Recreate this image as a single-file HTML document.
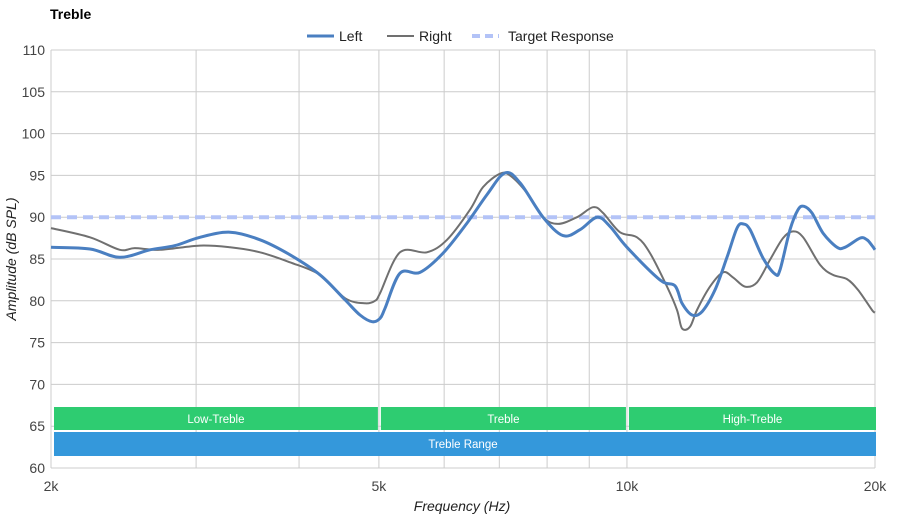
<!DOCTYPE html>
<html><head><meta charset="utf-8"><style>
body{margin:0;background:#fff;font-family:"Liberation Sans",sans-serif;}
svg text{font-family:"Liberation Sans",sans-serif;}
</style></head><body>
<svg id="chart" width="900" height="520" xmlns="http://www.w3.org/2000/svg">
<text x="50" y="19" font-size="14" font-weight="bold" fill="#000">Treble</text>
<g>
 <g><line x1="307" y1="36" x2="334" y2="36" stroke="#4a7fc1" stroke-width="3"/><text x="339" y="41" font-size="14" fill="#222">Left</text></g>
 <g><line x1="387" y1="36" x2="414" y2="36" stroke="#707070" stroke-width="2"/><text x="419" y="41" font-size="14" fill="#222">Right</text></g>
 <g><line x1="472" y1="36" x2="499" y2="36" stroke="#b3c3f7" stroke-width="4" stroke-dasharray="8,5"/><text x="508" y="41" font-size="14" fill="#222">Target Response</text></g>
</g>
<g id="grid"></g>
<g id="bands"></g>
<g id="series"></g>
<g id="axes"></g>
<text x="462" y="511" font-size="14" font-style="italic" text-anchor="middle" fill="#222">Frequency (Hz)</text>
<text transform="translate(16,259) rotate(-90)" font-size="14" font-style="italic" text-anchor="middle" fill="#222">Amplitude (dB SPL)</text>
</svg>
<script>
const yTicks=[60,65,70,75,80,85,90,95,100,105,110];
const xGrid=[2000,3000,4000,5000,6000,7000,8000,9000,10000,20000];
const xTickVals=[2000,5000,10000,20000];
const xTickLabels=["2k","5k","10k","20k"];
const targetDb=90;
const leftFreq=[2000,2230,2424,2637,2828,3032,3298,3587,3900,4242,4550,4743,4906,5016,5086,5304,5608,5982,6396,6763,7112,7418,7910,8364,8770,9198,9538,10000,10968,11438,11664,11994,12332,12788,13226,13600,13832,14106,14628,15126,15338,15772,16130,16400,16772,17296,17986,18392,19180,19558,19834,20000];
const leftDb=[86.4,86.2,85.2,86.1,86.6,87.6,88.2,87.3,85.5,83.1,80.1,78.3,77.5,77.9,79.1,83.3,83.4,85.7,89.3,92.7,95.3,94.1,90.0,87.8,88.5,90.0,88.9,86.4,82.5,81.8,79.7,78.3,78.7,81.3,85.2,88.7,89.2,88.5,85.1,83.2,83.7,88.5,90.9,91.3,90.5,88.1,86.4,86.4,87.5,87.3,86.6,86.1];
const rightFreq=[2000,2230,2424,2528,2712,3032,3298,3587,3900,4242,4550,4809,4946,5016,5304,5718,6048,6450,6688,7014,7212,7564,7910,8248,8696,9096,9354,9806,10286,10666,11184,11500,11664,11928,12162,12612,13078,13450,13906,14382,14914,15466,15906,16358,17156,17784,18494,19074,19834,20000];
const rightDb=[88.7,87.6,86.1,86.3,86.1,86.6,86.4,85.8,84.6,83.1,80.3,79.7,80.0,80.9,85.8,85.8,87.3,90.9,93.6,95.2,95.0,92.9,90.0,89.2,90.0,91.2,90.5,88.2,87.6,85.7,81.7,78.9,76.7,76.9,78.9,81.7,83.4,82.8,81.7,82.2,84.9,87.5,88.3,87.6,84.3,83.1,82.6,81.3,78.9,78.6];
const bandNames=["Low-Treble","Treble","High-Treble"];
const bandStart=[2000,5000,10000];
const bandEnd=[5000,10000,20000];
const rangeName="Treble Range";

const L=51,R=875,T=50,B=468;
const NS="http://www.w3.org/2000/svg";
function xs(f){return L+(Math.log10(f/2000)/1)*(R-L);}
function ys(v){return B-(v-60)/50*(B-T);}
function mk(tag,attrs,parent){const e=document.createElementNS(NS,tag);for(const k in attrs)e.setAttribute(k,attrs[k]);parent.appendChild(e);return e;}
const grid=document.getElementById('grid'),axes=document.getElementById('axes'),series=document.getElementById('series'),bands=document.getElementById('bands');
yTicks.forEach(v=>{
 const l=mk('line',{x1:L,x2:R,y1:ys(v),y2:ys(v),stroke:'#cccccc','stroke-width':1},grid);
 
 
 const t=mk('text',{x:L-6,y:ys(v)+5,'font-size':14,'text-anchor':'end',fill:'#444'},axes);
 t.textContent=v;
 
 
});
xGrid.forEach(f=>{
 const l=mk('line',{x1:xs(f),x2:xs(f),y1:T,y2:B,stroke:'#cccccc','stroke-width':1},grid);
 
 
});
xTickVals.forEach((f,i)=>{
 const t=mk('text',{x:xs(f),y:B+23,'font-size':14,'text-anchor':'middle',fill:'#444'},axes);
 t.textContent=xTickLabels[i];
 
 
});
bandNames.forEach((n,i)=>{
 const x1=xs(bandStart[i])+(i==0?3:2),x2=xs(bandEnd[i])-(i==2?-1:1);
 const r=mk('rect',{x:x1,y:407,width:x2-x1,height:23,fill:'#2ecc71'},bands);
 
 
 const t=mk('text',{x:(x1+x2)/2,y:423,'font-size':11.5,'text-anchor':'middle',fill:'#fff'},bands);
 t.textContent=n;
 
 
});
const rr=mk('rect',{x:xs(2000)+3,y:432,width:xs(20000)-xs(2000)-2,height:24,fill:'#3498db'},bands);


const rt=mk('text',{x:(xs(2000)+xs(20000))/2,y:448,'font-size':11.5,'text-anchor':'middle',fill:'#fff'},bands);
rt.textContent=rangeName;


const tg=mk('line',{x1:L,x2:R,y1:ys(targetDb),y2:ys(targetDb),stroke:'#b3c3f7','stroke-width':4,'stroke-dasharray':'10,6'},series);


function pathD(fr,db){
 const p=fr.map((f,i)=>[xs(f),ys(db[i])]);
 let d='M'+p[0][0].toFixed(1)+','+p[0][1].toFixed(1);
 for(let i=0;i<p.length-1;i++){
  const p0=p[i-1]||p[i],p1=p[i],p2=p[i+1],p3=p[i+2]||p2;
  const c1=[p1[0]+(p2[0]-p0[0])/6,p1[1]+(p2[1]-p0[1])/6],c2=[p2[0]-(p3[0]-p1[0])/6,p2[1]-(p3[1]-p1[1])/6];
  d+=' C'+c1[0].toFixed(1)+','+c1[1].toFixed(1)+' '+c2[0].toFixed(1)+','+c2[1].toFixed(1)+' '+p2[0].toFixed(1)+','+p2[1].toFixed(1);
 }
 return d;
}
const rp=mk('path',{d:pathD(rightFreq,rightDb),fill:'none',stroke:'#707070','stroke-width':2},series);


const lp=mk('path',{d:pathD(leftFreq,leftDb),fill:'none',stroke:'#4a7fc1','stroke-width':3},series);


</script>
</body></html>
